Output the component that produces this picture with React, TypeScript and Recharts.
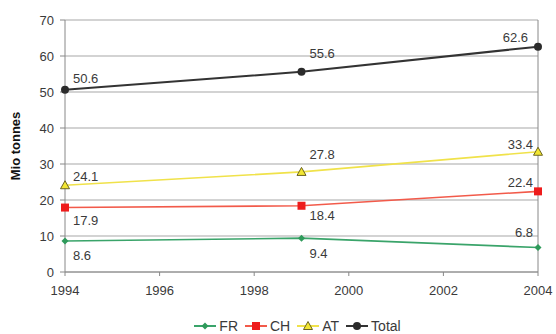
import React from "react";
import {
  LineChart,
  Line,
  XAxis,
  YAxis,
  CartesianGrid,
  ReferenceLine,
  LabelList,
  Legend,
} from "recharts";

const years = [1994, 1999, 2004];
const fr = [8.6, 9.4, 6.8];
const ch = [17.9, 18.4, 22.4];
const at = [24.1, 27.8, 33.4];
const total = [50.6, 55.6, 62.6];
const xTicks = [1994, 1996, 1998, 2000, 2002, 2004];
const yTicks = [0, 10, 20, 30, 40, 50, 60, 70];

const data = years.map((year, i) => ({
  year,
  FR: fr[i],
  CH: ch[i],
  AT: at[i],
  Total: total[i],
}));

const FONT = "'Liberation Sans', Arial, sans-serif";
const TEXT = "#3a3a3a";

type Shape = "diamond" | "square" | "triangle" | "circle";

function marker(shape: Shape, x: number, y: number, color: string, key?: string) {
  if (shape === "diamond")
    return (
      <path key={key} d={`M${x},${y - 3.5}L${x + 3.5},${y}L${x},${y + 3.5}L${x - 3.5},${y}Z`} fill={color} />
    );
  if (shape === "square")
    return <rect key={key} x={x - 4} y={y - 4} width={8} height={8} fill={color} />;
  if (shape === "triangle")
    return (
      <path
        key={key}
        d={`M${x},${y - 4.5}L${x + 4.5},${y + 3.5}L${x - 4.5},${y + 3.5}Z`}
        fill="#f2e632"
        stroke="#6b6420"
        strokeWidth={1}
      />
    );
  return <circle key={key} cx={x} cy={y} r={4} fill={color} />;
}

const series = [
  { key: "FR", color: "#2e9a5a", line: "#3aa46a", shape: "diamond" as Shape },
  { key: "CH", color: "#ee1c1c", line: "#f25a4a", shape: "square" as Shape },
  { key: "AT", color: "#f2e632", line: "#f0e24a", shape: "triangle" as Shape },
  { key: "Total", color: "#2b2b2b", line: "#333333", shape: "circle" as Shape },
];

// label offsets [dx, dy, anchor] per point
const labelPos: Record<string, [number, number, string][]> = {
  FR: [[8, 16, "start"], [8, 16, "start"], [-5, -14, "end"]],
  CH: [[8, 14, "start"], [8, 11, "start"], [-5, -8, "end"]],
  AT: [[8, -8, "start"], [8, -16, "start"], [-5, -6, "end"]],
  Total: [[8, -10, "start"], [8, -17, "start"], [-10, -8, "end"]],
};

function makeLabel(key: string) {
  return (props: any) => {
    const { x, y, value, index } = props;
    const [dx, dy, anchor] = labelPos[key][index];
    return (
      <text
        x={x + dx}
        y={y + dy}
        textAnchor={anchor as any}
        dominantBaseline="middle"
        fontSize={13}
        fontFamily={FONT}
        fill={TEXT}
      >
        {value.toFixed(1)}
      </text>
    );
  };
}

function LegendContent() {
  return (
    <div
      style={{
        display: "flex",
        justifyContent: "center",
        alignItems: "center",
        fontFamily: FONT,
        fontSize: 14,
        color: TEXT,
        paddingLeft: 64,
      }}
    >
      {series.map((s) => (
        <span key={s.key} style={{ display: "flex", alignItems: "center", marginRight: 7 }}>
          <svg width={22} height={12}>
            <line x1={0} y1={6} x2={22} y2={6} stroke={s.line} strokeWidth={2} />
            {marker(s.shape, 11, 6, s.color)}
          </svg>
          <span style={{ marginLeft: 3 }}>{s.key}</span>
        </span>
      ))}
    </div>
  );
}

export default function App() {
  return (
    <div style={{ position: "absolute", left: 0, top: 0, background: "#fff" }}>
      <LineChart
        width={556}
        height={334}
        data={data}
        margin={{ top: 20, right: 18, bottom: 0, left: 0 }}
      >
        <CartesianGrid vertical={false} stroke="#a8a8a8" strokeWidth={1.2} />
        <XAxis
          dataKey="year"
          type="number"
          domain={[1994, 2004]}
          ticks={xTicks}
          height={46}
          tickSize={4}
          tickMargin={10}
          stroke="#888"
          tick={{ fill: TEXT, fontSize: 13, fontFamily: FONT }}
        />
        <YAxis
          domain={[0, 70]}
          ticks={yTicks}
          width={65}
          tickSize={5}
          tickMargin={6}
          stroke="#888"
          tick={{ fill: TEXT, fontSize: 13, fontFamily: FONT }}
          label={{
            value: "Mio tonnes",
            angle: -90,
            position: "insideLeft",
            offset: 15,
            style: { fontSize: 13, fontWeight: 700, fontFamily: FONT, fill: "#111", textAnchor: "middle" },
          }}
        />
        <ReferenceLine x={2004} stroke="#888" />
        <Legend verticalAlign="bottom" height={16} content={<LegendContent />} />
        {series.map((s) => (
          <Line
            key={s.key}
            dataKey={s.key}
            stroke={s.line}
            strokeWidth={s.key === "Total" ? 2 : 1.6}
            isAnimationActive={false}
            dot={(p: any) => marker(s.shape, p.cx, p.cy, s.color, `${s.key}-${p.index}`)}
            activeDot={false}
          >
            <LabelList dataKey={s.key} content={makeLabel(s.key)} />
          </Line>
        ))}
      </LineChart>
    </div>
  );
}
